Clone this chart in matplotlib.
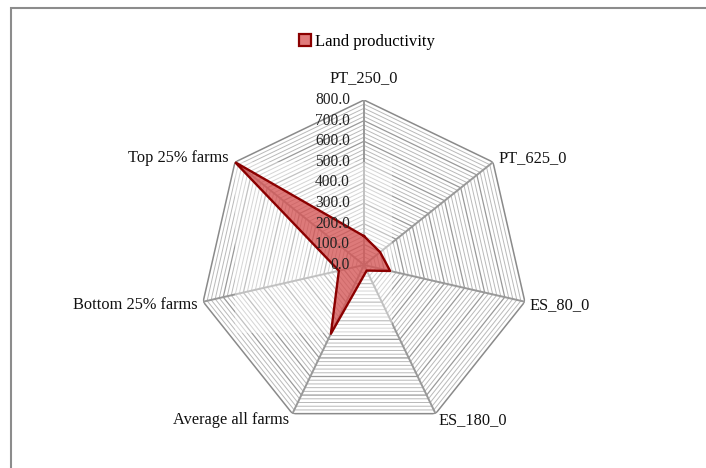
import numpy as np
import matplotlib
matplotlib.use("Agg")
from matplotlib import pyplot as plt
from matplotlib.patches import Rectangle
from matplotlib.lines import Line2D
from matplotlib.transforms import offset_copy

# spokes of the radar, clockwise from the top
categories = ["PT_250_0", "PT_625_0", "ES_80_0", "ES_180_0",
              "Average all farms", "Bottom 25% farms", "Top 25% farms"]
land_productivity = [140.0, 100.0, 130.0, 30.0, 370.0, 125.0, 800.0]
r_ticks = [0, 100, 200, 300, 400, 500, 600, 700, 800]
r_minor = list(range(0, 801, 20))
series_name = "Land productivity"

plt.rcParams["font.family"] = ["Liberation Serif", "DejaVu Serif"]

W, H = 706, 468
fig = plt.figure(figsize=(W / 100, H / 100), dpi=100)

# centre at (364, 265) px, outer ring radius 165 px
cx, cy, R = 364, 265, 165
ax = fig.add_axes([(cx - R) / W, (H - cy - R) / H, 2 * R / W, 2 * R / H],
                  projection="polar")
ax.set_theta_offset(np.pi / 2)
ax.set_theta_direction(-1)
ax.set_ylim(0, r_ticks[-1])
ax.grid(False)
ax.spines["polar"].set_visible(False)
ax.set_xticks([])
ax.set_yticks([])
ax.patch.set_alpha(0)

n = len(categories)
theta = np.arange(n) * 2 * np.pi / n
theta_closed = np.append(theta, theta[0])

# polygon grid: light lines every 20, darker every 100
for v in r_minor:
    if v == 0:
        continue
    if v % 100 == 0:
        col, lw = "#999999", 0.9
    else:
        col, lw = "#b9b9b9", 0.7
    if v == r_ticks[-1]:
        col, lw = "#8a8a8a", 1.1
    ax.plot(theta_closed, [v] * (n + 1), color=col, lw=lw, zorder=1)

# spokes
for t in theta:
    ax.plot([t, t], [0, r_ticks[-1]], color="#999999", lw=1.4, zorder=2)

# washed-out patch in the middle of the chart
ax.add_patch(Rectangle((235 / W, 1 - 333 / H), (392 - 235) / W, (333 - 162) / H,
                       transform=fig.transFigure, facecolor="white",
                       edgecolor="none", alpha=0.4, clip_on=False, zorder=2.5))

# data polygon
vals = np.append(land_productivity, land_productivity[0])
ax.fill(theta_closed, vals, facecolor="#cc3333", alpha=0.65, zorder=3)
ax.plot(theta_closed, vals, color="#8b0000", lw=1.7, zorder=4)

# radial tick labels to the left of the top spoke
tick_tr = offset_copy(ax.transData, fig=fig, x=-14, y=0, units="dots")
for v in r_ticks:
    ax.text(0, v, f"{v:.1f}", transform=tick_tr, ha="right", va="center",
            fontsize=11.2, color="#222222", zorder=5)

# category labels just outside the outer ring
label_pos = [
    (0, 14, "center", "bottom"),
    (5, 4, "left", "center"),
    (5, -3, "left", "center"),
    (3, -6, "left", "center"),
    (-3, -6, "right", "center"),
    (-6, -3, "right", "center"),
    (-6, 4, "right", "center"),
]
for t, lab, (dx, dy, ha, va) in zip(theta, categories, label_pos):
    tr = offset_copy(ax.transData, fig=fig, x=dx, y=dy, units="dots")
    ax.text(t, r_ticks[-1], lab, transform=tr, ha=ha, va=va,
            fontsize=11.8, color="#111111")

# legend
handle = Line2D([], [], marker="s", linestyle="none", markersize=9,
                markerfacecolor="#e07b7b", markeredgecolor="#8b0000",
                markeredgewidth=1.6)
fig.legend([handle], [series_name], loc="center", bbox_to_anchor=(366 / W, 1 - 42 / H),
           frameon=False, fontsize=12, handletextpad=0.1, handlelength=1.0)

# chart-area border (runs off the right and bottom edges)
fig.add_artist(Rectangle((11 / W, -0.2), 1.2, 1 - 8 / H + 0.2,
                         transform=fig.transFigure, facecolor="none",
                         edgecolor="#8c8c8c", lw=1.5))

fig.savefig("out.png", dpi=100)
